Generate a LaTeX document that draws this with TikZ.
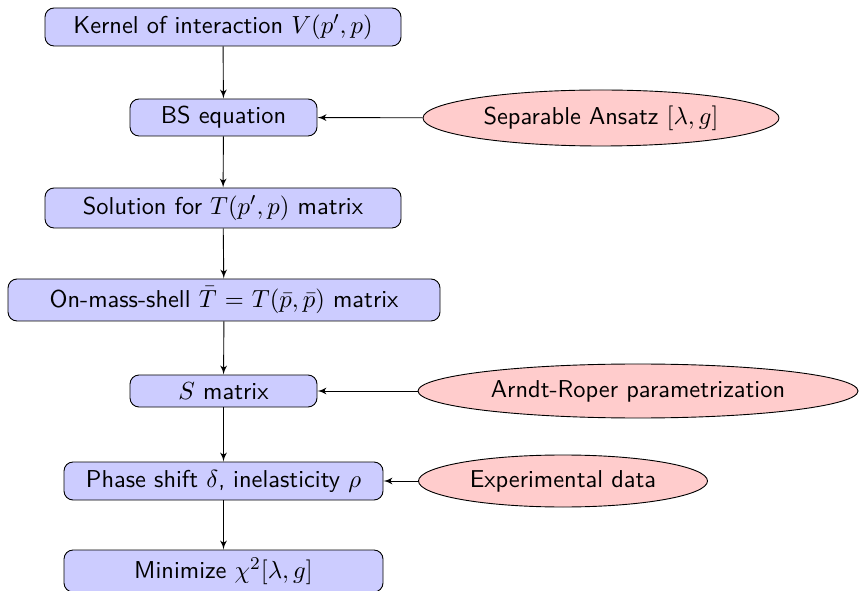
\documentclass[tikz,border=0pt]{standalone}
\usetikzlibrary{shapes.geometric,arrows}
\begin{document}
\begin{tikzpicture}[x=0.4425pt,y=-0.4425pt,
  font=\fontsize{10.8}{13}\selectfont\sffamily,
  block/.style={rectangle,draw,fill=blue!20,rounded corners=4pt,inner sep=0pt,align=center},
  cloud/.style={ellipse,draw,fill=red!20,inner sep=0pt},
  line/.style={draw,-latex'}]
\useasboundingbox (0,0) rectangle (859,591);
% main chain
\node[block,minimum width=356*0.4425pt,minimum height=38*0.4425pt] (kernel) at (223,27) {Kernel of interaction $V(p',p)$};
\node[block,minimum width=187*0.4425pt,minimum height=37*0.4425pt] (bs) at (223.5,117.5) {BS equation};
\node[block,minimum width=356*0.4425pt,minimum height=40*0.4425pt] (sol) at (223,208) {Solution for $T(p',p)$ matrix};
\node[block,minimum width=432*0.4425pt,minimum height=42*0.4425pt] (shell) at (224,300) {On-mass-shell $\bar{T}$ = $T(\bar{p},\bar{p})$ matrix};
\node[block,minimum width=187*0.4425pt,minimum height=32*0.4425pt] (smat) at (223.5,391) {$S$ matrix};
\node[block,minimum width=319*0.4425pt,minimum height=38*0.4425pt] (phase) at (223.5,481) {Phase shift $\delta$, inelasticity $\rho$};
\node[block,minimum width=319*0.4425pt,minimum height=42*0.4425pt] (chi) at (223.5,571) {Minimize $\chi^2[\lambda,g]$};
% side inputs
\node[cloud,minimum width=356*0.4425pt,minimum height=56*0.4425pt] (ansatz) at (601,118) {Separable Ansatz $[\lambda,g]$};
\node[cloud,minimum width=440*0.4425pt,minimum height=54*0.4425pt] (arndt) at (638,391) {Arndt-Roper parametrization};
\node[cloud,minimum width=289*0.4425pt,minimum height=52*0.4425pt] (exp) at (563,481) {Experimental data};
% connectors
\path[line] (kernel) -- (bs);
\path[line] (bs) -- (sol);
\path[line] (sol) -- (shell);
\path[line] (shell) -- (smat);
\path[line] (smat) -- (phase);
\path[line] (phase) -- (chi);
\path[line] (ansatz) -- (bs);
\path[line] (arndt) -- (smat);
\path[line] (exp) -- (phase);
\end{tikzpicture}
\end{document}
